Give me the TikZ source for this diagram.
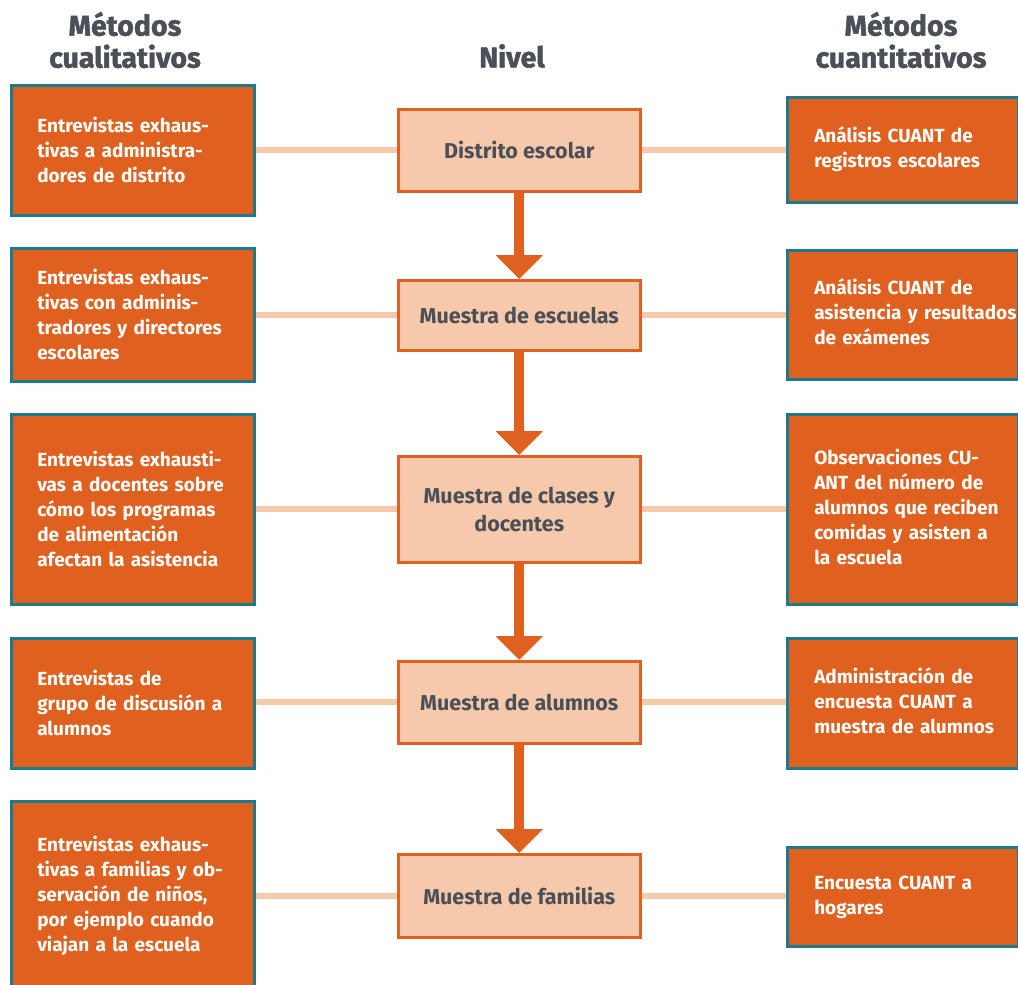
\documentclass[tikz,border=0pt]{standalone}
\usepackage{fontspec}
\setmainfont{Fira Sans}
\newfontfamily\heavyfont{Fira Sans}[BoldFeatures={FakeBold=1.6}]
\usetikzlibrary{arrows.meta}
\definecolor{orng}{HTML}{E0601F}
\definecolor{peach}{HTML}{F5C9A9}
\definecolor{teal}{HTML}{1B7A8C}
\definecolor{txtgray}{HTML}{4B4F58}
\newcommand{\rlines}[1]{\hspace*{27pt}\begin{tabular}{@{}l@{}}#1\end{tabular}}
\tikzset{
  side/.style={draw=teal, line width=2.5pt, fill=orng, text=white, font=\bfseries\fontsize{19}{25}\selectfont,
    inner ysep=0pt, anchor=north west},
  lside/.style={side, align=left, inner xsep=26pt, text width=191pt},
  rside/.style={side, inner xsep=0pt, text width=231pt},
  mid/.style={draw=orng, line width=2.5pt, fill=peach, text=txtgray, font=\bfseries\fontsize{21.5}{28}\selectfont,
    align=center, inner sep=0pt, anchor=north west, minimum width=242pt},
  head/.style={text=txtgray, font=\heavyfont\bfseries\fontsize{28.5}{32}\selectfont, align=center, inner sep=0pt},
  link/.style={draw=peach, line width=6pt},
  flow/.style={draw=orng, line width=10pt, -{Triangle[width=46pt,length=24pt]}},
}
\begin{document}
\begin{tikzpicture}[x=1pt,y=-1pt]
\clip (0,0) rectangle (1018,985);
\fill[white] (0,0) rectangle (1018,985);
% headers
\node[head] (h1) at (125,40) {Métodos\\cualitativos};
\node[head] (h2) at (512,56) {Nivel};
\node[head] (h3) at (901,40) {Métodos\\cuantitativos};
% middle boxes
\node[mid, minimum height=82pt] (m1) at (397,108) {Distrito escolar};
\node[mid, minimum height=70pt] (m2) at (397,279) {Muestra de escuelas};
\node[mid, minimum height=106pt] (m3) at (397,455) {Muestra de clases y\\docentes};
\node[mid, minimum height=82pt] (m4) at (397,660) {Muestra de alumnos};
\node[mid, minimum height=83pt] (m5) at (397,853) {Muestra de familias};
% left boxes
\node[lside, minimum height=130pt] (l1) at (10,84) {Entrevistas exhaus-\\tivas a administra-\\dores de distrito};
\node[lside, minimum height=133pt] (l2) at (10,247) {Entrevistas exhaus-\\tivas con adminis-\\tradores y directores\\escolares};
\node[lside, minimum height=190pt] (l3) at (10,413) {Entrevistas exhausti-\\vas a docentes sobre\\cómo los programas\\de alimentación\\afectan la asistencia};
\node[lside, minimum height=130pt] (l4) at (10,637) {Entrevistas de\\grupo de discusión a\\alumnos};
\node[lside, minimum height=190pt] (l5) at (10,800) {Entrevistas exhaus-\\tivas a familias y ob-\\servación de niños,\\por ejemplo cuando\\viajan a la escuela};
% right boxes
\node[rside, minimum height=105pt] (r1) at (786,96) {\rlines{Análisis CUANT de\\registros escolares}};
\node[rside, minimum height=129pt] (r2) at (786,249) {\rlines{Análisis CUANT de\\asistencia y resultados\\de exámenes}};
\node[rside, minimum height=190pt] (r3) at (786,413) {\rlines{Observaciones CU-\\ANT del número de\\alumnos que reciben\\comidas y asisten a\\la escuela}};
\node[rside, minimum height=130pt] (r4) at (786,637) {\rlines{Administración de\\encuesta CUANT a\\muestra de alumnos}};
\node[rside, minimum height=99pt] (r5) at (786,846) {\rlines{Encuesta CUANT a\\hogares}};
% links
\foreach \i in {1,...,5}{
  \draw[link] (m\i.west) -- (l\i.east |- m\i.west);
  \draw[link] (m\i.east) -- (r\i.west |- m\i.east);
}
% flow arrows
\draw[flow] (m1.south) -- (m2.north);
\draw[flow] (m2.south) -- (m3.north);
\draw[flow] (m3.south) -- (m4.north);
\draw[flow] (m4.south) -- (m5.north);
\end{tikzpicture}
\end{document}
